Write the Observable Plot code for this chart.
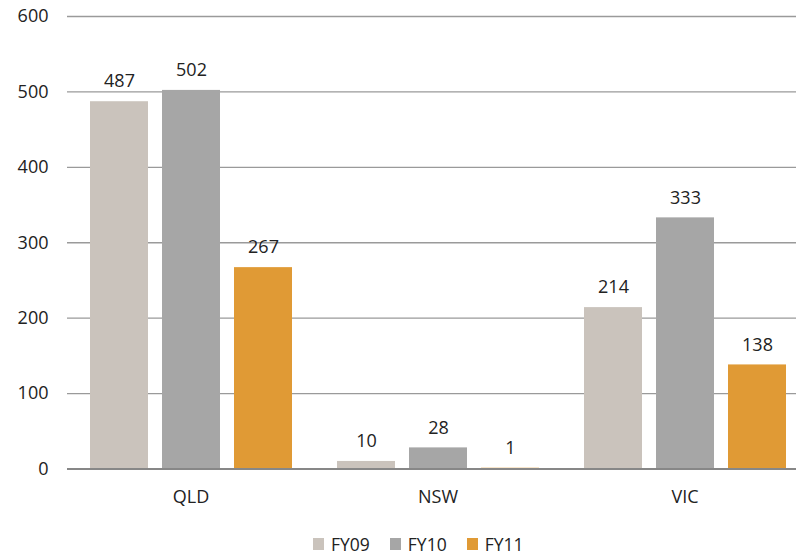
<!DOCTYPE html>
<html>
<head>
<meta charset="utf-8">
<script src="https://cdn.jsdelivr.net/npm/d3@7"></script>
<script src="https://cdn.jsdelivr.net/npm/@observablehq/plot@0.6"></script>
<style>
  body { margin: 0; background: #fff; overflow: hidden; }
  #chart { width: 796px; }
  .legend { display: flex; align-items: center; height: 20px; line-height: 20px; padding-top: 9px; padding-left: 313px;
            font-family: 'Open Sans', sans-serif; font-size: 17.5px; color: #222; }
  .legend .sw { width: 11px; height: 12px; margin-right: 7px; }
  .legend .lab { margin-right: 20px; }
</style>
</head>
<body>
<div id="chart"></div>
<script>
// Regions and financial years
const states = ["QLD", "NSW", "VIC"];
const years = ["FY09", "FY10", "FY11"];

// Values per region, one array per year
const fy09 = [487, 10, 214];
const fy10 = [502, 28, 333];
const fy11 = [267, 1, 138];

const yTicks = [0, 100, 200, 300, 400, 500, 600];
const colors = ["#CAC3BC", "#A6A6A6", "#E09A35"];

const series = [fy09, fy10, fy11];
const data = states.flatMap((s, i) =>
  years.map((y, j) => ({ state: s, year: y, value: series[j][i] }))
);

const chart = Plot.plot({
  width: 796,
  height: 525,
  marginLeft: 66,
  marginRight: -12,
  marginTop: 16,
  marginBottom: 56.5,
  style: { fontFamily: "'Open Sans', sans-serif", fontSize: "18px", color: "#222", background: "#fff" },
  fx: { domain: states, padding: 0, label: null },
  x: { domain: years, paddingInner: 0.2, paddingOuter: 0.31, axis: null },
  y: { domain: [0, 600], label: null },
  color: { domain: years, range: colors },
  marks: [
    Plot.ruleY(yTicks.filter(d => d > 0), { stroke: "#9a9a9a", strokeWidth: 1.3 }),
    Plot.barY(data, { fx: "state", x: "year", y: "value", fill: "year" }),
    Plot.ruleY([0], { stroke: "#878787", strokeWidth: 2 }),
    Plot.text(data, { fx: "state", x: "year", y: "value", text: d => String(d.value), dy: -20, fill: "#222" }),
    Plot.axisY({ ticks: yTicks, tickSize: 0, tickPadding: 19, label: null, tickFormat: d => String(d) }),
    Plot.axisFx({ anchor: "bottom", tickSize: 0, tickPadding: 21, label: null })
  ]
});
document.getElementById("chart").appendChild(chart);

// Legend row below the chart
const legend = d3.select("#chart").append("div").attr("class", "legend");
years.forEach((y, i) => {
  legend.append("div").attr("class", "sw").style("background", colors[i]);
  legend.append("div").attr("class", "lab").text(y);
});
</script>
</body>
</html>
